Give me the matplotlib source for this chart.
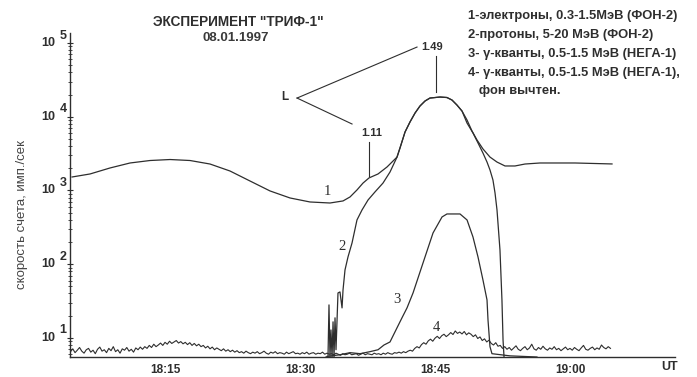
import numpy as np
import matplotlib
matplotlib.use("Agg")
import matplotlib.pyplot as plt
from matplotlib.ticker import LogLocator, NullFormatter, FixedLocator

# ---- data (time in minutes after 18:00 UT, count rate in counts/s) ----
# 1 - electrons 0.3-1.5 MeV
e_time = [4.67, 6.67, 8.89, 11.11, 13.33, 15.56, 17.78, 20.0, 22.22, 24.44,
          26.67, 28.89, 31.11, 33.33, 34.78, 35.56, 36.33, 37.0, 37.67, 38.67,
          39.67, 40.78, 41.11, 41.67, 42.22, 42.78, 43.33, 43.89, 44.44, 45.56,
          46.33, 46.89, 47.44, 48.0, 48.56, 49.11, 49.67, 50.33, 51.11, 51.89,
          52.78, 53.89, 55.0, 56.67, 60.56, 64.67]
e_rate = [1524, 1675, 2020, 2360, 2550, 2630, 2550, 2285, 1837, 1345,
          985, 791, 698, 676, 721, 817, 1016, 1260, 1480, 1675,
          2084, 2840, 3770, 6210, 8490, 11230, 13990, 16360, 17950, 18530,
          18250, 16870, 14430, 11970, 9030, 6410, 4840, 3660, 2840, 2430,
          2150, 2150, 2285, 2360, 2360, 2290]

# 2 - protons 5-20 MeV
p_time = [32.89, 33.11, 33.22, 33.33, 33.44, 33.56, 33.67, 33.78, 33.89, 34.0,
          34.22, 34.44, 34.67, 34.78, 35.0, 35.33, 35.78, 36.33, 36.89, 37.56,
          38.33, 39.22, 40.0, 40.78, 41.11, 41.67, 42.22, 42.78, 43.33, 43.89,
          44.44, 45.56, 46.33, 46.89, 47.44, 48.0, 48.56, 49.22, 49.78, 50.33,
          50.78, 51.11, 51.44, 51.67, 51.89, 52.22, 52.44, 52.56, 52.67]
p_rate = [5.5, 5.5, 28, 5.5, 12.8, 5.5, 16.5, 5.5, 18.7, 6.9,
          40.7, 42, 25.5, 44.8, 83.6, 125, 194, 398, 544, 743,
          955, 1260, 1780, 2840, 3770, 6210, 8490, 11230, 13990, 16360,
          17950, 18530, 18250, 16870, 14430, 11970, 8220, 6030, 4410, 3220,
          2430, 1900, 1387, 925, 544, 156, 32.7, 9.4, 5.5]

# 3 - gamma quanta 0.5-1.5 MeV
g_time = [33.0, 34.44, 35.56, 36.67, 37.78, 38.67, 39.33, 40.0, 40.78, 41.33,
          41.89, 42.56, 43.67, 44.78, 45.78, 46.33, 47.78, 48.56, 49.22, 49.78,
          50.33, 50.78, 50.89, 51.11, 51.33, 53.33, 56.33]
g_rate = [5.6, 5.9, 6.3, 6.1, 6.5, 6.9, 8.0, 8.8, 13.7, 18.7,
          25.5, 40.7, 104, 265, 437, 480, 480, 398, 234, 125,
          61, 32.7, 17.5, 7.6, 6.1, 5.7, 5.5]

# 4 - gamma quanta 0.5-1.5 MeV, background subtracted (15 s samples)
b_start, b_step = 4.5, 0.25
b_rate = [6.5, 7.1, 6.3, 6.8, 7.4, 6.6, 6.2, 6.9, 7.2, 6.4, 6.8, 6.1, 7.0, 7.5, 6.6, 6.9,
          6.3, 7.2, 6.7, 7.6, 6.5, 6.9, 6.2, 7.1, 6.8, 7.4, 6.6, 7.0, 6.4, 7.3, 6.9, 7.5,
          7.0, 7.6, 7.2, 7.9, 7.4, 8.2, 7.6, 8.0, 8.5, 7.9, 8.7, 8.2, 9.0, 8.4, 8.8, 9.2,
          8.5, 8.9, 8.3, 8.7, 8.1, 8.6, 7.9, 8.4, 7.8, 8.2, 7.6,
          7.9, 7.3, 7.7, 7.1, 7.5, 6.9, 7.3, 7.0, 6.7, 7.1, 6.6, 6.9, 6.5, 6.8, 6.4, 6.7,
          6.3, 6.5, 6.2, 6.6, 6.3, 6.1, 6.4, 6.2, 6.5, 6.1, 6.3, 6.6, 6.2, 6.0, 6.4, 6.2,
          6.5, 6.1, 6.3, 6.2, 6.0, 6.4, 6.1, 6.3, 6.5, 6.1, 6.2, 6.0, 6.3, 6.1, 6.4, 6.0,
          6.2, 6.3, 6.0, 6.2, 6.1, 6.4, 6.0, 6.2,
          6.0, 6.1, 5.9, 6.2, 6.0, 5.8, 6.1, 5.9, 6.0, 6.2, 5.9, 6.0, 6.1, 5.8, 6.0, 6.2,
          5.9, 6.1, 6.0, 5.9, 6.2, 6.0, 6.1, 5.9, 6.2, 6.0, 6.3, 6.1, 6.0, 6.3, 6.2, 6.4,
          6.2, 6.5, 6.3, 6.6,
          6.8, 6.6, 7.2, 7.6, 7.3, 8.1, 8.6, 8.2, 9.1, 9.6, 9.0, 9.9, 10.5, 9.8, 10.7, 11.2,
          10.4, 11.0,
          11.8, 11.1, 12.4, 11.5, 12.0, 11.3, 12.2, 11.0, 11.7, 11.2,
          10.4, 11.0, 9.8, 10.3, 9.2, 9.7, 8.8, 9.3, 8.4, 8.0, 8.6, 7.7,
          7.9, 7.2, 7.6, 7.0, 7.4, 6.8, 7.3, 7.8, 7.0, 6.7, 7.2, 7.6, 6.9, 7.3, 8.2, 7.1,
          6.8, 7.4, 7.0, 7.7, 7.1, 6.8, 7.3, 7.0, 7.6, 6.9, 7.2, 6.7, 7.1, 7.5, 6.9, 7.2,
          6.8, 7.4, 7.0, 6.7, 7.3, 7.9, 7.0, 6.8, 7.2, 7.5, 6.9, 7.3, 7.0, 8.0, 7.4, 7.1,
          7.6, 7.2]
b_time = b_start + b_step * np.arange(len(b_rate))

x_ticks = [15, 30, 45, 60]
x_labels = ["18:15", "18:30", "18:45", "19:00"]
decades = [1, 2, 3, 4, 5]

legend_lines = ["1-электроны, 0.3-1.5МэВ (ФОН-2)",
                "2-протоны, 5-20 МэВ (ФОН-2)",
                "3- γ-кванты, 0.5-1.5 МэВ (НЕГА-1)",
                "4- γ-кванты, 0.5-1.5 МэВ (НЕГА-1),",
                "   фон вычтен."]

# ---- figure ----
ink = "#2e2e2e"
font = "Liberation Sans"
plt.rcParams["font.family"] = [font, "DejaVu Sans"]

fig = plt.figure(figsize=(6.97, 3.77), dpi=100)
fig.patch.set_facecolor("white")
ax = fig.add_axes([70 / 697, 20 / 377, 605 / 697, 324 / 377])
ax.set_yscale("log")
ax.set_ylim(5.5, 1.37e5)
ax.set_xlim(4.44, 71.67)

lw = 0.9
ax.plot(e_time, e_rate, color=ink, lw=lw)
ax.plot(p_time, p_rate, color=ink, lw=lw)
ax.plot(g_time, g_rate, color=ink, lw=lw)
ax.plot(b_time, b_rate, color=ink, lw=0.8)

for side in ("top", "right"):
    ax.spines[side].set_visible(False)
for side in ("left", "bottom"):
    ax.spines[side].set_color(ink)
    ax.spines[side].set_linewidth(1.0)

ax.xaxis.set_major_locator(FixedLocator(x_ticks))
ax.set_xticklabels(x_labels, fontsize=8.5, fontweight="bold", color=ink)
ax.tick_params(axis="x", length=0, pad=5)

ax.yaxis.set_major_locator(FixedLocator([10.0 ** k for k in decades]))
ax.yaxis.set_minor_locator(LogLocator(base=10, subs=np.arange(2, 10)))
ax.yaxis.set_major_formatter(NullFormatter())
ax.yaxis.set_minor_formatter(NullFormatter())
ax.tick_params(axis="y", which="major", direction="inout", length=5, width=0.8, color=ink)
ax.tick_params(axis="y", which="minor", direction="inout", length=3, width=0.6, color=ink)

ytr = ax.get_yaxis_transform()
for k in decades:
    ax.text(-0.024, 10.0 ** k, "10", transform=ytr, ha="right", va="center",
            fontsize=9, fontweight="bold", color=ink)
    ax.text(-0.017, 10.0 ** (k + 0.1), str(k), transform=ytr, ha="left", va="center",
            fontsize=9, fontweight="bold", color=ink)

fig.text(0.032, 0.43, "скорость счета, имп./сек", rotation=90, ha="center", va="center",
         fontsize=9.5, color="#444444")
fig.text(670 / 697, 1 - 367 / 377, "UT", ha="center", va="center", fontsize=9,
         fontweight="bold", color=ink)

# title
fig.text(0.342, 0.941, 'ЭКСПЕРИМЕНТ "ТРИФ-1"', ha="center", va="center",
         fontsize=9.8, fontweight="bold", color=ink)
fig.text(0.338, 0.899, "08.01.1997", ha="center", va="center",
         fontsize=9.5, fontweight="bold", color="#3a3a3a")

# species key
key_y = [0.957, 0.907, 0.857, 0.806, 0.759]
for txt, y in zip(legend_lines, key_y):
    fig.text(468 / 697, y, txt, ha="left", va="center", fontsize=9.3,
             fontweight="bold", color=ink)

# curve numbers
num_kw = dict(fontsize=10.5, family="Liberation Serif", color=ink, ha="center", va="center")
ax.text(33.0, 955, "1", **num_kw)
ax.text(34.67, 171, "2", **num_kw)
ax.text(40.78, 32.7, "3", **num_kw)
ax.text(45.11, 13.7, "4", **num_kw)

# L-shell markers
ax.plot([29.67, 43.0], [17950, 88300], color=ink, lw=0.8)
ax.plot([29.67, 35.78], [17950, 7980], color=ink, lw=0.8)
ax.plot([45.11, 45.11], [10 ** 4.82, 10 ** 4.34], color=ink, lw=0.8)
ax.plot([37.67, 37.67], [10 ** 3.66, 10 ** 3.19], color=ink, lw=0.8)
ax.text(28.33, 10 ** 4.27, "L", ha="center", va="center", fontsize=8.5,
        fontweight="bold", color=ink)
ax.text(44.7, 10 ** 4.94, "1.49", ha="center", va="center", fontsize=8,
        fontweight="bold", color=ink)
ax.text(38.0, 10 ** 3.78, "1.11", ha="center", va="center", fontsize=8,
        fontweight="bold", color=ink)

fig.savefig("out.png", dpi=100, facecolor="white")
